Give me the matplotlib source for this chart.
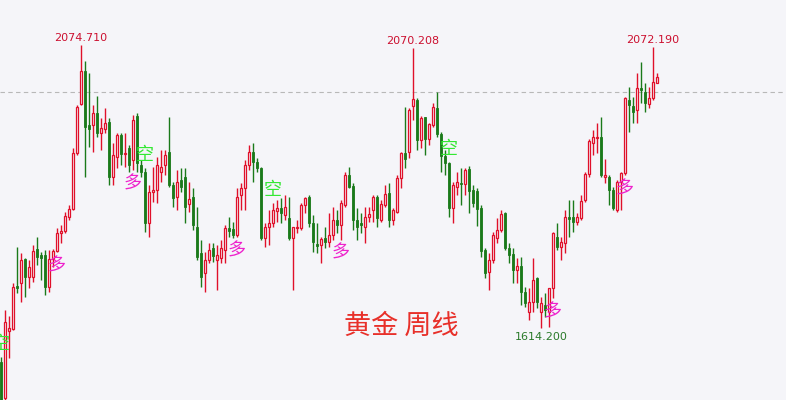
import numpy as np
import matplotlib
matplotlib.use('Agg')
import matplotlib.pyplot as plt

# Weekly gold candles (open, high, low, close)
opens = [1559, 1500, 1610, 1613, 1683, 1688, 1727, 1697, 1697, 1743,
         1733, 1733, 1681, 1727, 1740, 1769, 1772, 1795, 1808, 1899,
         1979, 2033, 1945, 1945, 1964, 1932, 1938, 1950, 1860, 1893,
         1928, 1897, 1907, 1888, 1959, 1880, 1868, 1785, 1836, 1839,
         1868, 1880, 1901, 1847, 1828, 1855, 1860, 1816, 1828, 1779,
         1736, 1704, 1725, 1745, 1725, 1728, 1741, 1777, 1775, 1766,
         1831, 1842, 1880, 1901, 1884, 1875, 1761, 1779, 1785, 1805,
         1810, 1798, 1793, 1761, 1777, 1777, 1815, 1828, 1785, 1751,
         1749, 1761, 1754, 1766, 1790, 1782, 1815, 1863, 1845, 1790,
         1785, 1779, 1795, 1806, 1828, 1790, 1815, 1834, 1790, 1803,
         1858, 1899, 1901, 1976, 1985, 1920, 1958, 1922, 1945, 1972,
         1930, 1894, 1883, 1810, 1844, 1850, 1849, 1873, 1839, 1837,
         1810, 1741, 1705, 1725, 1761, 1774, 1801, 1745, 1735, 1709,
         1715, 1673, 1640, 1657, 1696, 1640, 1652, 1640, 1679, 1762,
         1746, 1753, 1795, 1795, 1787, 1793, 1823, 1865, 1915, 1923,
         1925, 1860, 1860, 1839, 1806, 1852, 1867, 1985, 1976, 1969,
         2005, 1998, 1979, 1989, 2013]
highs = [1567, 1644, 1634, 1688, 1746, 1736, 1728, 1725, 1749, 1762,
         1738, 1741, 1741, 1743, 1777, 1782, 1803, 1815, 1907, 1977,
         2074.71, 2049, 2029, 1977, 1992, 1956, 1972, 1956, 1915, 1932,
         1932, 1932, 1912, 1961, 1964, 1888, 1875, 1847, 1876, 1893,
         1904, 1904, 1958, 1852, 1871, 1875, 1875, 1852, 1842, 1811,
         1758, 1738, 1753, 1753, 1749, 1758, 1782, 1795, 1787, 1842,
         1850, 1888, 1912, 1915, 1891, 1876, 1785, 1806, 1818, 1823,
         1826, 1831, 1828, 1779, 1790, 1818, 1828, 1831, 1798, 1785,
         1762, 1779, 1801, 1811, 1806, 1823, 1868, 1876, 1850, 1810,
         1801, 1811, 1811, 1831, 1831, 1823, 1847, 1850, 1810, 1863,
         1901, 1974, 1972, 2070.208, 1989, 1959, 1958, 1948, 1980, 1998,
         1933, 1904, 1884, 1852, 1868, 1875, 1875, 1878, 1847, 1842,
         1815, 1745, 1736, 1771, 1793, 1806, 1803, 1753, 1745, 1728,
         1730, 1681, 1679, 1728, 1697, 1665, 1671, 1679, 1771, 1785,
         1762, 1806, 1823, 1823, 1801, 1831, 1868, 1922, 1937, 1948,
         1958, 1889, 1863, 1844, 1855, 1868, 1990, 2007, 1990, 2029,
         2047, 2013, 2007, 2072.19, 2029]
lows = [1478, 1481, 1566, 1611, 1671, 1657, 1665, 1679, 1689, 1717,
        1692, 1668, 1673, 1714, 1738, 1753, 1769, 1790, 1806, 1896,
        1977, 1860, 1909, 1901, 1925, 1904, 1932, 1847, 1847, 1875,
        1880, 1876, 1868, 1871, 1868, 1860, 1771, 1762, 1819, 1818,
        1852, 1863, 1844, 1811, 1806, 1836, 1785, 1803, 1774, 1725,
        1681, 1673, 1720, 1722, 1676, 1720, 1720, 1762, 1761, 1762,
        1806, 1806, 1871, 1852, 1868, 1758, 1746, 1749, 1779, 1787,
        1785, 1790, 1758, 1676, 1769, 1774, 1801, 1779, 1738, 1736,
        1720, 1745, 1746, 1758, 1769, 1758, 1811, 1842, 1774, 1758,
        1769, 1753, 1787, 1787, 1779, 1787, 1811, 1779, 1782, 1801,
        1842, 1875, 1891, 1953, 1904, 1907, 1896, 1912, 1941, 1925,
        1868, 1863, 1795, 1785, 1831, 1815, 1831, 1801, 1811, 1780,
        1730, 1696, 1676, 1720, 1753, 1771, 1741, 1720, 1688, 1688,
        1652, 1649, 1627, 1640, 1647, 1614.2, 1632, 1616, 1663, 1741,
        1725, 1736, 1762, 1771, 1782, 1790, 1819, 1860, 1896, 1899,
        1860, 1850, 1815, 1806, 1803, 1806, 1863, 1933, 1948, 1948,
        1980, 1966, 1972, 1985, 2013]
closes = [1489, 1624, 1614, 1681, 1679, 1725, 1697, 1714, 1740, 1730,
          1728, 1681, 1727, 1740, 1769, 1772, 1797, 1808, 1899, 1974,
          2033, 1941, 1938, 1964, 1932, 1940, 1948, 1860, 1896, 1928,
          1897, 1899, 1880, 1953, 1883, 1868, 1785, 1836, 1839, 1880,
          1876, 1896, 1847, 1826, 1852, 1844, 1811, 1824, 1782, 1730,
          1697, 1725, 1741, 1732, 1733, 1745, 1777, 1772, 1766, 1828,
          1842, 1880, 1901, 1884, 1875, 1761, 1779, 1785, 1806, 1810,
          1801, 1811, 1761, 1779, 1779, 1815, 1826, 1785, 1754, 1748,
          1759, 1754, 1766, 1790, 1782, 1818, 1863, 1844, 1790, 1779,
          1782, 1795, 1800, 1828, 1793, 1816, 1832, 1790, 1806, 1858,
          1899, 1889, 1969, 1987, 1920, 1956, 1922, 1946, 1974, 1930,
          1894, 1883, 1810, 1847, 1852, 1849, 1871, 1837, 1818, 1808,
          1740, 1704, 1725, 1766, 1774, 1800, 1745, 1733, 1709, 1715,
          1673, 1655, 1657, 1692, 1657, 1655, 1644, 1679, 1769, 1746,
          1754, 1795, 1792, 1787, 1795, 1821, 1865, 1919, 1925, 1925,
          1863, 1863, 1839, 1810, 1852, 1867, 1989, 1977, 1966, 2005,
          2002, 1980, 1989, 2015, 2023]

# weeks carrying a signal glyph, and weeks with a price label
buy_weeks = [14, 33, 59, 85, 138, 156]    # 多
sell_weeks = [0, 36, 68, 112]             # 空
peak_weeks = [20, 103, 163]
bottom_weeks = [135]
ref_level = 1998

bg = '#f5f5f9'
up_col = '#e0102a'
down_col = '#1a7a1a'

weeks = np.arange(len(opens))
o = np.array(opens)
h = np.array(highs)
l = np.array(lows)
c = np.array(closes)
up = c >= o

fig = plt.figure(figsize=(7.86, 4.0), dpi=100, facecolor=bg)
ax = fig.add_axes([0, 0, 1, 1])
ax.set_facecolor(bg)

ax.axhline(ref_level, color='#b8b8b8', lw=0.8, ls=(0, (4, 3)), zorder=1)

# wicks
ax.vlines(weeks[up], l[up], h[up], color=up_col, lw=1, zorder=2)
ax.vlines(weeks[~up], l[~up], h[~up], color=down_col, lw=1, zorder=2)

# bodies: hollow red for up weeks, solid green for down weeks
body = np.maximum(np.abs(c - o), 1.6)
bottom = np.minimum(o, c)
ax.bar(weeks[up], body[up], bottom=bottom[up], width=0.55,
       facecolor=bg, edgecolor=up_col, lw=0.9, zorder=3)
ax.bar(weeks[~up], body[~up], bottom=bottom[~up], width=0.7,
       facecolor=down_col, edgecolor=down_col, lw=0.6, zorder=3)

cjk = ['Noto Sans CJK SC', 'DejaVu Sans']
for w in buy_weeks:
    ax.annotate('多', (w, lows[w]), xytext=(0, -9.5), textcoords='offset points',
                ha='center', va='center', fontsize=13, color='#ee22cc',
                family=cjk, zorder=4)
for w in sell_weeks:
    ax.annotate('空', (w, highs[w]), xytext=(0, 9.5), textcoords='offset points',
                ha='center', va='center', fontsize=13, color='#33e833',
                family=cjk, zorder=4)

for w in peak_weeks:
    ax.annotate('%.3f' % highs[w], (w, highs[w]), xytext=(0, 1.5),
                textcoords='offset points', ha='center', va='bottom',
                fontsize=8, color='#cc1030')
for w in bottom_weeks:
    ax.annotate('%.3f' % lows[w], (w, lows[w]), xytext=(0, -2.5),
                textcoords='offset points', ha='center', va='top',
                fontsize=8, color='#2a7a2a')

ax.text(0.511, 0.185, '黄金 周线', transform=ax.transAxes, ha='center',
        va='center', fontsize=19.5, color='#e8302a', family=cjk)

ax.set_xlim(-0.25, 196.25)
ax.set_ylim(1497.2, 2148)
ax.axis('off')

fig.savefig('out.png', dpi=100, facecolor=bg)
